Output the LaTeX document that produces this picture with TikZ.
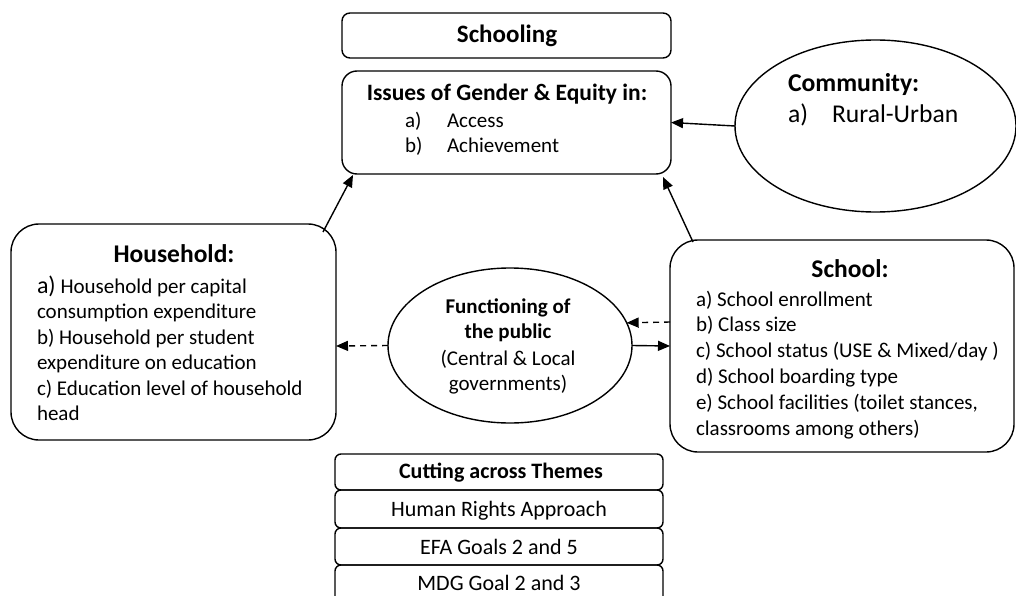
\documentclass[tikz,border=0pt]{standalone}
\usepackage{fontspec}
\setmainfont{Carlito}
\usetikzlibrary{arrows.meta,shapes.geometric}
\newcommand\fsz[2]{\fontsize{#1}{#2}\selectfont}
\tikzset{
  box/.style={draw, line width=1.4pt, rounded corners=#1, inner sep=0pt, outer sep=0pt},
  oval/.style={draw, ellipse, line width=1.4pt, inner sep=0pt, outer sep=0pt},
  txt/.style={inner sep=0pt, outer sep=0pt},
  conn/.style={line width=1.4pt, -{Triangle[length=12pt,width=10pt]}},
  dconn/.style={conn, dash pattern=on 6pt off 5pt},
  body/.style={txt, font=\fsz{21}{25}},
  bodyb/.style={txt, font=\fsz{21}{25}\bfseries},
}
\begin{document}
\begin{tikzpicture}[x=1pt,y=-1pt]
\useasboundingbox (0,0) rectangle (1016,596);
\fill[white] (0,0) rectangle (1016,596);

% boxes
\node[box=8pt, minimum width=329pt, minimum height=45pt] (schooling) at (506.5,35.5) {};
\node[box=15pt, minimum width=329pt, minimum height=103pt] (issues) at (506.5,122.5) {};
\node[oval, minimum width=281pt, minimum height=172pt] (comm) at (875.5,126) {};
\node[box=28pt, minimum width=325pt, minimum height=216pt] (house) at (173.5,332) {};
\node[box=28pt, minimum width=344pt, minimum height=212pt] (school) at (842,346) {};
\node[oval, minimum width=244pt, minimum height=155pt] (func) at (510,345.5) {};
\node[box=6pt, minimum width=328pt, minimum height=36pt] (cut1) at (499,472) {};
\node[box=6pt, minimum width=328pt, minimum height=38pt] (cut2) at (499,509) {};
\node[box=6pt, minimum width=328pt, minimum height=37pt] (cut3) at (499,546.5) {};
\node[box=6pt, minimum width=328pt, minimum height=38pt] (cut4) at (499,584) {};

% texts
\node[txt, anchor=base, font=\fsz{25}{30}\bfseries] (tschool) at (507,43) {Schooling};

\node[txt, anchor=base, font=\fsz{23.5}{28}\bfseries] (tiss) at (507,101) {Issues of Gender \& Equity in:};
\node[body, anchor=base west] (tissa) at (405,128) {a)};
\node[body, anchor=base west] (tissa2) at (447,128) {Access};
\node[body, anchor=base west] (tissb) at (405,153) {b)};
\node[body, anchor=base west] (tissb2) at (447,153) {Achievement};

\node[txt, anchor=base west, font=\fsz{25.7}{30}\bfseries] (tcomm) at (788,92) {Community:};
\node[txt, anchor=base west, font=\fsz{25.6}{30}] (tcomma) at (788,123) {a)};
\node[txt, anchor=base west, font=\fsz{25.6}{30}] (tcomma2) at (832,123) {Rural-Urban};

\node[txt, anchor=base, font=\fsz{25.5}{30}\bfseries] (thouse) at (174,262) {Household:};
\node[body, anchor=base west] (th1) at (37,293) {{\fsz{24}{25}a)} Household per capital};
\node[body, anchor=base west] (th2) at (37,318.5) {consumption expenditure};
\node[body, anchor=base west] (th3) at (37,344) {b) Household per student};
\node[body, anchor=base west] (th4) at (37,369.5) {expenditure on education};
\node[body, anchor=base west] (th5) at (37,395) {c) Education level of household};
\node[body, anchor=base west] (th6) at (37,420.5) {head};

\node[txt, anchor=base, font=\fsz{25.5}{30}\bfseries] (tsch) at (850,277) {School:};
\node[body, anchor=base west] (ts1) at (696,306) {a) School enrollment};
\node[body, anchor=base west] (ts2) at (696,331.8) {b) Class size};
\node[body, anchor=base west] (ts3) at (696,357.6) {c) School status (USE \& Mixed/day )};
\node[body, anchor=base west] (ts4) at (696,383.4) {d) School boarding type};
\node[body, anchor=base west] (ts5) at (696,409.2) {e) School facilities (toilet stances,};
\node[body, anchor=base west] (ts6) at (696,435) {classrooms among others)};

\node[bodyb, anchor=base] (tf1) at (508,313) {Functioning of};
\node[bodyb, anchor=base] (tf2) at (508,338) {the public};
\node[body, anchor=base] (tf3) at (508,365) {(Central \& Local};
\node[body, anchor=base] (tf4) at (508,390) {governments)};

\node[txt, anchor=base, font=\fsz{22}{26}\bfseries] (tc1) at (501,478) {Cutting across Themes};
\node[txt, anchor=base, font=\fsz{22}{26}] (tc2) at (499,516) {Human Rights Approach};
\node[txt, anchor=base, font=\fsz{22}{26}] (tc3) at (499,554) {EFA Goals 2 and 5};
\node[txt, anchor=base, font=\fsz{22}{26}] (tc4) at (499,590) {MDG Goal 2 and 3};

% connectors
\draw[conn] (comm.west) -- (issues.east);
\draw[conn] ([xshift=-13pt,yshift=-8pt]house.north east) -- ([xshift=11pt,yshift=-1pt]issues.south west);
\draw[conn] ([xshift=23pt,yshift=-2pt]school.north west) -- ([xshift=-8pt,yshift=-3pt]issues.south east);
\draw[dconn] ([yshift=24pt]school.west) -- (func.11);
\draw[conn] (func.east) -- (school.west);
\draw[dconn] (func.west) -- ([yshift=-14pt]house.east);
\end{tikzpicture}
\end{document}
